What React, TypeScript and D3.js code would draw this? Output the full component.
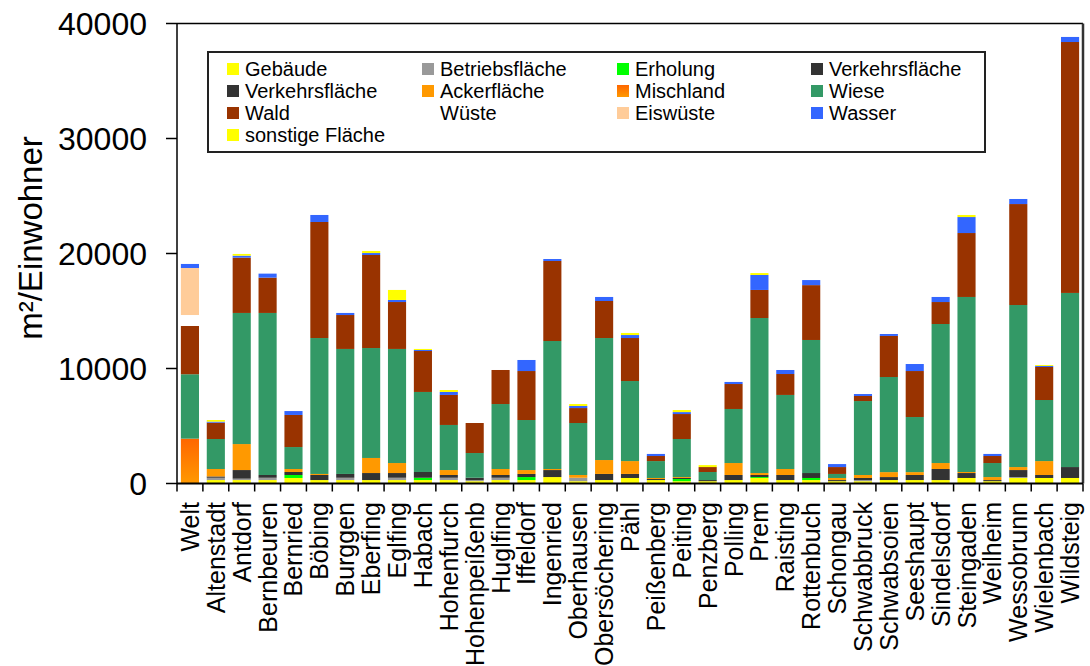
import React from "react";
import * as d3 from "d3";

const categories = ["Welt","Altenstadt","Antdorf","Bernbeuren","Bernried","Böbing","Burggen","Eberfing","Eglfing","Habach","Hohenfurch","Hohenpeißenb","Huglfing","Iffeldorf","Ingenried","Oberhausen","Obersöchering","Pähl","Peißenberg","Peiting","Penzberg","Polling","Prem","Raisting","Rottenbuch","Schongau","Schwabbruck","Schwabsoien","Seeshaupt","Sindelsdorf","Steingaden","Weilheim","Wessobrunn","Wielenbach","Wildsteig"];

const gebaeude =       [0,300,300,300,480,300,300,300,300,300,300,200,300,300,560,200,300,480,300,200,200,300,480,300,300,200,200,300,300,300,480,200,480,480,480];
const betriebsflaeche =[0,200,120,200,0,0,200,0,200,0,200,100,200,0,0,300,0,0,0,0,0,0,0,0,0,0,100,0,0,0,0,0,80,0,0];
const erholung =       [0,0,0,0,260,0,0,0,0,200,0,0,0,260,0,0,0,0,0,190,0,0,80,0,180,0,0,0,0,0,0,0,0,0,0];
const verkehr1 =       [0,115,750,240,260,440,330,610,410,500,240,200,240,270,610,0,530,350,90,90,100,440,180,440,430,100,180,260,440,960,430,100,610,260,950];
const verkehr2 =       [0,0,0,0,0,0,0,0,0,0,0,0,0,0,0,0,0,0,0,0,0,0,0,0,0,0,0,0,0,0,0,0,0,0,0];
const ackerflaeche =   [0,645,2260,0,260,90,0,1310,870,0,430,0,520,340,90,240,1210,1120,90,80,0,1040,170,520,0,180,260,430,250,520,90,260,260,1210,0];
const mischland =      [3900,0,0,0,0,0,0,0,0,0,0,0,0,0,0,0,0,0,0,0,0,0,0,0,0,0,0,0,0,0,0,0,0,0,0];
const wiese =          [5600,2610,11400,14090,1910,11820,10870,9560,9920,6960,3920,2150,5650,4350,11130,4520,10610,6960,1470,3310,700,4700,13480,6440,11570,350,6430,8270,4790,12090,15220,1220,14090,5310,15140];
const wald =           [4200,1420,4810,3070,2790,10090,2950,8090,4080,3560,2610,2610,2960,4260,6960,1300,3220,3740,440,2170,430,2170,2440,1820,4770,600,440,3570,4000,1910,5560,610,8780,2870,21820];
const wueste =         [950,0,0,0,0,0,0,0,0,0,0,0,0,0,0,0,0,0,0,0,0,0,0,0,0,0,0,0,0,0,0,0,0,0,0];
const eiswueste =      [4090,0,0,0,0,0,0,0,0,0,0,0,0,0,0,0,0,0,0,0,0,0,0,0,0,0,0,0,0,0,0,0,0,0,0];
const wasser =         [350,90,170,350,340,610,180,170,180,90,260,0,0,960,170,180,350,260,180,170,0,180,1300,350,440,260,170,170,610,440,1390,180,440,90,440];
const sonstige =       [0,140,150,0,0,0,0,180,870,90,170,0,0,0,0,170,0,180,0,180,170,0,170,0,0,0,0,0,0,0,180,0,0,80,0];

const seriesNames = ["Gebäude","Betriebsfläche","Erholung","Verkehrsfläche","Verkehrsfläche","Ackerfläche","Mischland","Wiese","Wald","Wüste","Eiswüste","Wasser","sonstige Fläche"];
const seriesValues = [gebaeude,betriebsflaeche,erholung,verkehr1,verkehr2,ackerflaeche,mischland,wiese,wald,wueste,eiswueste,wasser,sonstige];
const seriesColors = ["#FFFF00","#999999","#00FF00","#333333","#333333","#FF9900","url(#mischGrad)","#339966","#993300","#FFFFFF","#FFCC99","#3366FF","#FFFF00"];

const yTicks = [0,10000,20000,30000,40000];

const FONT = "'Liberation Sans', Arial, Helvetica, sans-serif";

export default function App() {
  const left = 177, right = 1083, top = 23.5, bottom = 483.5;
  const keys = seriesNames.map((_, i) => "s" + i);
  const rows = categories.map((c, ci) => {
    const r: any = { cat: c };
    keys.forEach((k, si) => (r[k] = seriesValues[si][ci]));
    return r;
  });
  const stacked = d3.stack().keys(keys)(rows);
  const x = d3.scaleBand().domain(categories).range([left, right]).paddingInner(0.3).paddingOuter(0.15);
  const y = d3.scaleLinear().domain([0, 40000]).range([bottom, top]);
  const step = x.step();
  const bw = x.bandwidth();
  const boundaries = categories.map((c) => (x(c) as number) - (step - bw) / 2).concat([right]);

  const legendCols = [227, 422, 617, 811];
  const legendRows = [69, 91, 113, 135];

  return (
    <div style={{ position: "absolute", left: 0, top: 0 }}>
      <svg width={1090} height={666} style={{ display: "block", background: "#fff" }} fontFamily={FONT}>
        <defs>
          <linearGradient id="mischGrad" x1="0" y1="0" x2="0" y2="1">
            <stop offset="0%" stopColor="#FF6600" />
            <stop offset="100%" stopColor="#FF9900" />
          </linearGradient>
        </defs>
        {/* bars */}
        {stacked.map((layer, si) => (
          <g key={si} fill={seriesColors[si]}>
            {layer.map((d, ci) => {
              const h = y(d[0]) - y(d[1]);
              if (h <= 0) return null;
              return <rect key={ci} x={x(categories[ci])} y={y(d[1])} width={bw} height={h} />;
            })}
          </g>
        ))}
        {/* frame */}
        <line x1={left} x2={right} y1={top} y2={top} stroke="#000" strokeWidth={1.5} />
        <line x1={right} x2={right} y1={top} y2={bottom} stroke="#333" strokeWidth={2.5} />
        <line x1={left} x2={left} y1={top} y2={bottom} stroke="#000" strokeWidth={1.5} />
        <line x1={left} x2={right} y1={bottom} y2={bottom} stroke="#000" strokeWidth={2} />
        {/* y ticks */}
        {yTicks.map((t) => (
          <g key={t}>
            <line x1={left - 11} x2={left} y1={y(t)} y2={y(t)} stroke="#000" strokeWidth={1.5} />
            <text x={147} y={y(t)} dy="0.36em" textAnchor="end" fontSize={32} fill="#000">{t}</text>
          </g>
        ))}
        {/* x ticks */}
        {boundaries.map((bx, i) => (
          <line key={i} x1={bx} x2={bx} y1={bottom} y2={bottom + 8} stroke="#000" strokeWidth={1.5} />
        ))}
        {categories.map((c) => (
          <text key={c} transform={`translate(${(x(c) as number) + bw / 2},502) rotate(-90)`} textAnchor="end" dy="0.36em" fontSize={25} fill="#000">{c}</text>
        ))}
        {/* y title */}
        <text transform="translate(30,238) rotate(-90)" textAnchor="middle" dy="0.36em" fontSize={33} fill="#000">m²/Einwohner</text>
        {/* legend */}
        <rect x={208} y={52} width={777} height={100} fill="#fff" stroke="#222" strokeWidth={2} />
        {seriesNames.map((name, i) => {
          const cx = legendCols[i % 4];
          const cy = legendRows[Math.floor(i / 4)];
          return (
            <g key={i}>
              <rect x={cx} y={cy - 6} width={12} height={12} fill={seriesColors[i]} />
              <text x={cx + 18} y={cy} dy="0.36em" fontSize={20} fill="#000">{name}</text>
            </g>
          );
        })}
      </svg>
    </div>
  );
}
